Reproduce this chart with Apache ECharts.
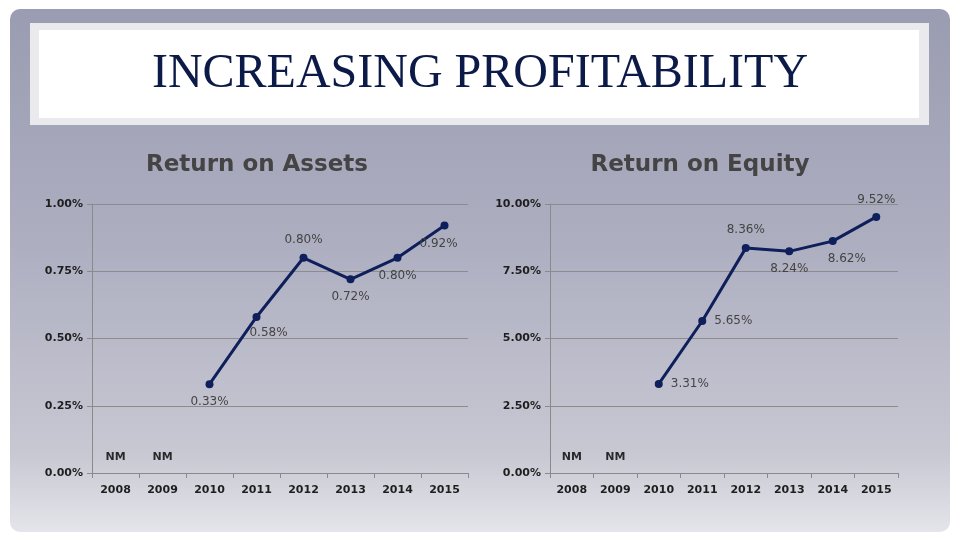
<!DOCTYPE html>
<html>
<head>
<meta charset="utf-8">
<script src="https://cdn.jsdelivr.net/npm/echarts@6/dist/echarts.min.js"></script>
<style>
html,body{margin:0;padding:0;background:#ffffff;}
#c{width:960px;height:540px;}
</style>
</head>
<body>
<div id="c"></div>
<script>
// ---- data ----
const slideTitle = 'INCREASING PROFITABILITY';
const years = ['2008','2009','2010','2011','2012','2013','2014','2015'];
const roaTitle = 'Return on Assets';
const roeTitle = 'Return on Equity';
const roaValues = [null, null, 0.33, 0.58, 0.80, 0.72, 0.80, 0.92];
const roeValues = [null, null, 3.31, 5.65, 8.36, 8.24, 8.62, 9.52];
const nmMarks = [0, 0, null, null, null, null, null, null];
const nmText = 'NM';
const roaTicks = {min: 0, max: 1, interval: 0.25};
const roeTicks = {min: 0, max: 10, interval: 2.5};

// ---- presentation ----
const chart = echarts.init(document.getElementById('c'), null, {renderer: 'canvas'});
const navy = '#0e1f5b';
const tickFont = {color: '#1e1e1e', fontSize: 11, fontWeight: 'bold', fontFamily: 'DejaVu Sans'};
const roaLabelCfg = [null, null,
  {position: 'bottom', distance: 8},
  {position: 'bottom', distance: 6, offset: [12, 0]},
  {position: 'top', distance: 8},
  {position: 'bottom', distance: 8},
  {position: 'bottom', distance: 8},
  {position: 'bottom', distance: 8, offset: [-6, 0]}];
const roeLabelCfg = [null, null,
  {position: 'right', distance: 8},
  {position: 'right', distance: 8},
  {position: 'top', distance: 8},
  {position: 'bottom', distance: 8},
  {position: 'bottom', distance: 8, offset: [14, 0]},
  {position: 'top', distance: 7}];

function lineData(vals, cfg) {
  return vals.map((v, i) => v == null ? null : {value: v, label: cfg[i]});
}
function pctFmt(v) { return v.toFixed(2) + '%'; }

function axisPair(idx, ticks) {
  return {
    x: {
      type: 'category', gridIndex: idx, data: years, boundaryGap: true,
      axisLine: {lineStyle: {color: '#8a8a8a', width: 1}},
      axisTick: {show: true, lineStyle: {color: '#8a8a8a'}, length: 5},
      axisLabel: Object.assign({margin: 12}, tickFont)
    },
    y: {
      type: 'value', gridIndex: idx, min: ticks.min, max: ticks.max, interval: ticks.interval,
      axisLine: {show: true, lineStyle: {color: '#8a8a8a', width: 1}},
      axisTick: {show: true, lineStyle: {color: '#8a8a8a'}, length: 5},
      splitLine: {show: true, lineStyle: {color: '#8c8c8c', width: 1}},
      axisLabel: Object.assign({margin: 9, formatter: pctFmt}, tickFont)
    }
  };
}
const a1 = axisPair(0, roaTicks), a2 = axisPair(1, roeTicks);

function mainSeries(idx, vals, cfg) {
  return {
    type: 'line', xAxisIndex: idx, yAxisIndex: idx,
    data: lineData(vals, cfg), connectNulls: false,
    symbol: 'circle', symbolSize: 8,
    itemStyle: {color: navy},
    lineStyle: {color: navy, width: 3},
    label: {show: true, formatter: p => pctFmt(p.value), color: '#444444',
      fontSize: 12, fontFamily: 'DejaVu Sans'},
    z: 3
  };
}
function nmSeries(idx) {
  return {
    type: 'scatter', xAxisIndex: idx, yAxisIndex: idx,
    data: nmMarks, symbolSize: 0.1, itemStyle: {color: 'rgba(0,0,0,0)'},
    label: {show: true, formatter: nmText, position: 'top', distance: 10,
      color: '#000000', fontSize: 11, fontWeight: 'bold', fontFamily: 'DejaVu Sans'},
    silent: true
  };
}

chart.setOption({
  backgroundColor: '#ffffff',
  animation: false,
  graphic: [
    {type: 'rect', shape: {x: 10, y: 9, width: 940, height: 523, r: 10}, z: -10,
      style: {fill: new echarts.graphic.LinearGradient(0, 0, 0, 1, [
        {offset: 0, color: '#9a9cb1'},
        {offset: 0.45, color: '#adaec0'},
        {offset: 0.85, color: '#c8c8d3'},
        {offset: 1, color: '#e4e4ea'}])}},
    {type: 'rect', shape: {x: 30, y: 23, width: 899, height: 102}, z: -9,
      style: {fill: '#e9e9ee'}},
    {type: 'rect', shape: {x: 39, y: 30, width: 880, height: 88}, z: -8,
      style: {fill: '#ffffff'}}
  ],
  title: [
    {text: slideTitle, left: 'center', top: 45,
      textStyle: {fontFamily: 'Liberation Serif', fontSize: 48, fontWeight: 'normal', color: '#0c1a48'}},
    {text: roaTitle, left: 252, textAlign: 'center', top: 149,
      textStyle: {fontFamily: 'DejaVu Sans', fontSize: 23, fontWeight: 'bold', color: '#444444'}},
    {text: roeTitle, left: 695, textAlign: 'center', top: 149,
      textStyle: {fontFamily: 'DejaVu Sans', fontSize: 23, fontWeight: 'bold', color: '#444444'}}
  ],
  grid: [
    {left: 92, right: 492, top: 204, bottom: 67},
    {left: 550, right: 62, top: 204, bottom: 67}
  ],
  xAxis: [a1.x, a2.x],
  yAxis: [a1.y, a2.y],
  series: [
    mainSeries(0, roaValues, roaLabelCfg),
    mainSeries(1, roeValues, roeLabelCfg),
    nmSeries(0), nmSeries(1)
  ]
});
</script>
</body>
</html>
